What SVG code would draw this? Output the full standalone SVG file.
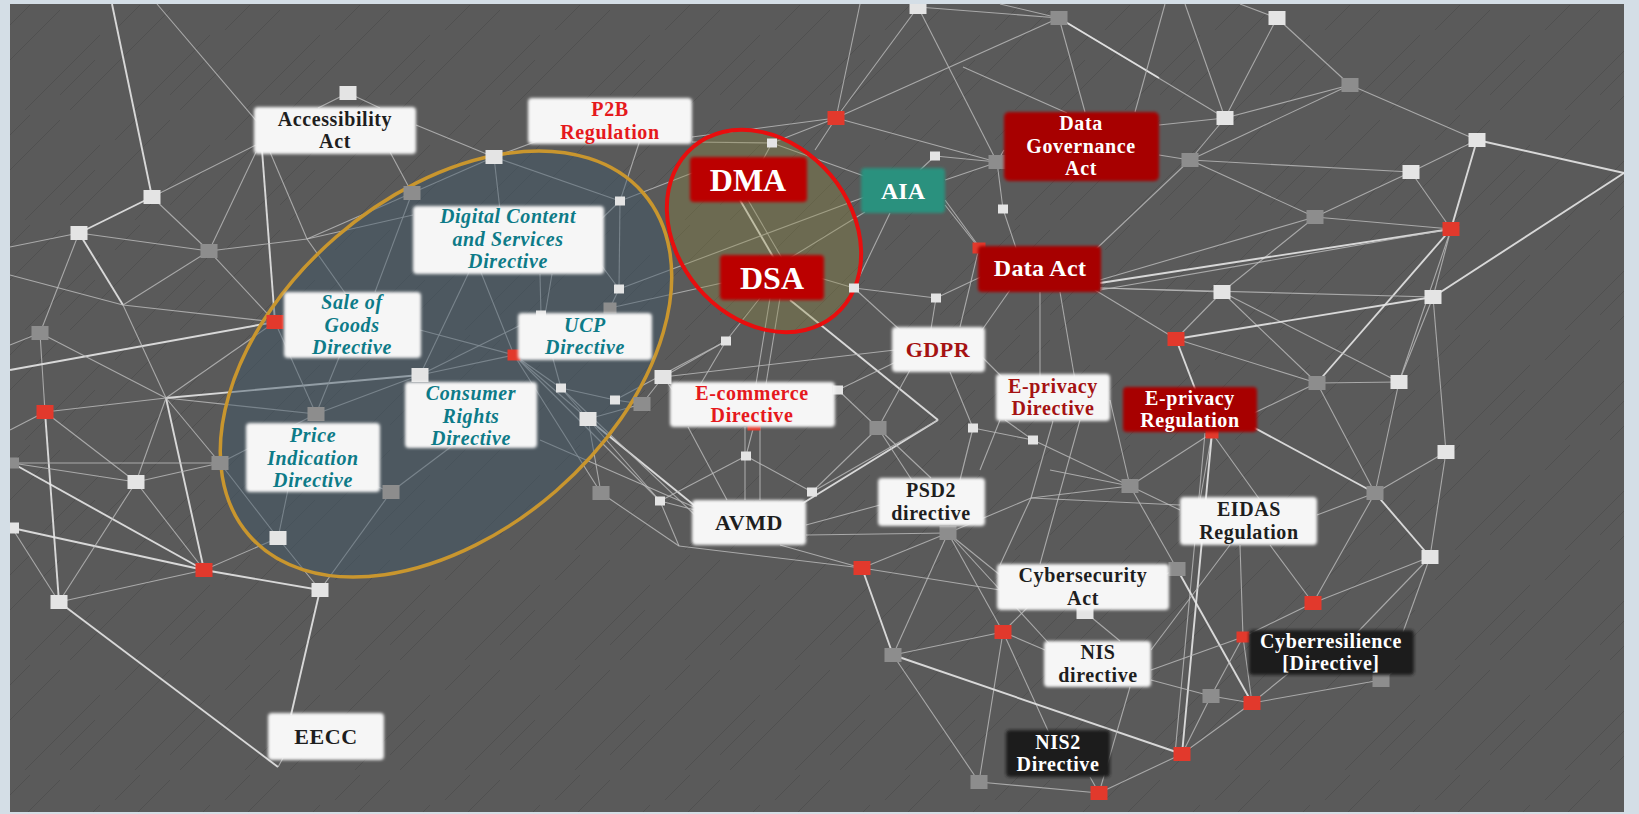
<svg xmlns="http://www.w3.org/2000/svg" width="1639" height="814" viewBox="0 0 1639 814">
<style>
.l{stroke:#bdbdbd;stroke-width:1.1;opacity:.8;fill:none}
.b{stroke:#e6e6e6;stroke-width:1.9;opacity:.9;fill:none}
.sw{fill:#e4e4e4}
.sg{fill:#8d8d8d}
.sr{fill:#e2392c}
.wb{fill:#f6f6f6;filter:url(#soft)}
.rb{fill:#a70000;filter:url(#soft)}
.rb2{fill:#bb0000;filter:url(#soft)}
.tb{fill:#2b917e;filter:url(#soft)}
.db{fill:#1f1f1f;filter:url(#soft)}
text{font-family:"Liberation Serif","DejaVu Serif",serif;font-weight:bold;text-anchor:middle;font-size:20px;letter-spacing:.6px}
.one{font-size:22px}
.k{fill:#1e1e1e}
.w{fill:#ffffff}
.r{fill:#e5191d}
.dr{fill:#a51212}
.t{fill:#0d7b88;font-style:italic}
</style>
<defs>
<filter id="soft" x="-10%" y="-25%" width="120%" height="150%"><feGaussianBlur stdDeviation="1.6"/></filter>
<pattern id="scr" width="110" height="110" patternUnits="userSpaceOnUse">
<path d="M0 70L60 10M25 110L100 35M60 95L95 60M5 30L30 5M70 110L110 70" stroke="#474747" stroke-width="1" opacity=".55" fill="none"/>
</pattern>
</defs>
<rect x="0" y="0" width="1639" height="814" fill="#d4dee6"/>
<rect x="10" y="4" width="1614" height="808" fill="#5a5a5a"/>
<rect x="10" y="4" width="1614" height="808" fill="url(#scr)"/>

<g id="connectors">
<line class="b" x1="112" y1="4" x2="152" y2="197"/>
<line class="l" x1="157" y1="4" x2="260" y2="125"/>
<line class="b" x1="152" y1="197" x2="79" y2="233"/>
<line class="l" x1="79" y1="233" x2="10" y2="247"/>
<line class="l" x1="152" y1="197" x2="256" y2="145"/>
<line class="l" x1="152" y1="197" x2="209" y2="251"/>
<line class="l" x1="79" y1="233" x2="209" y2="251"/>
<line class="b" x1="79" y1="233" x2="123" y2="305"/>
<line class="l" x1="10" y1="275" x2="123" y2="305"/>
<line class="l" x1="123" y1="305" x2="275" y2="322"/>
<line class="l" x1="123" y1="305" x2="209" y2="251"/>
<line class="l" x1="40" y1="333" x2="79" y2="233"/>
<line class="l" x1="40" y1="333" x2="45" y2="412"/>
<line class="l" x1="10" y1="345" x2="40" y2="333"/>
<line class="b" x1="10" y1="370" x2="275" y2="322"/>
<line class="b" x1="275" y1="322" x2="262" y2="150"/>
<line class="l" x1="209" y1="251" x2="256" y2="152"/>
<line class="l" x1="209" y1="251" x2="275" y2="322"/>
<line class="l" x1="209" y1="251" x2="307" y2="239"/>
<line class="l" x1="307" y1="239" x2="413" y2="215"/>
<line class="l" x1="270" y1="152" x2="307" y2="239"/>
<line class="l" x1="307" y1="239" x2="350" y2="300"/>
<line class="l" x1="412" y1="193" x2="390" y2="152"/>
<line class="l" x1="412" y1="193" x2="375" y2="292"/>
<line class="l" x1="307" y1="239" x2="412" y2="193"/>
<line class="l" x1="348" y1="93" x2="318" y2="108"/>
<line class="l" x1="348" y1="93" x2="380" y2="108"/>
<line class="l" x1="416" y1="125" x2="494" y2="157"/>
<line class="l" x1="494" y1="157" x2="500" y2="210"/>
<line class="l" x1="494" y1="157" x2="540" y2="140"/>
<line class="l" x1="494" y1="157" x2="620" y2="201"/>
<line class="l" x1="412" y1="193" x2="494" y2="157"/>
<line class="l" x1="123" y1="305" x2="166" y2="398"/>
<line class="l" x1="40" y1="333" x2="166" y2="398"/>
<line class="l" x1="45" y1="412" x2="166" y2="398"/>
<line class="b" x1="166" y1="398" x2="420" y2="375"/>
<line class="l" x1="166" y1="398" x2="316" y2="414"/>
<line class="l" x1="166" y1="398" x2="275" y2="322"/>
<line class="l" x1="316" y1="414" x2="340" y2="355"/>
<line class="l" x1="420" y1="375" x2="470" y2="270"/>
<line class="l" x1="514" y1="355" x2="480" y2="270"/>
<line class="l" x1="514" y1="355" x2="420" y2="330"/>
<line class="l" x1="275" y1="322" x2="316" y2="414"/>
<line class="l" x1="45" y1="412" x2="10" y2="430"/>
<line class="l" x1="45" y1="412" x2="136" y2="482"/>
<line class="b" x1="45" y1="412" x2="59" y2="602"/>
<line class="b" x1="166" y1="398" x2="204" y2="570"/>
<line class="l" x1="166" y1="398" x2="136" y2="482"/>
<line class="l" x1="12" y1="463" x2="136" y2="482"/>
<line class="b" x1="12" y1="463" x2="204" y2="570"/>
<line class="b" x1="12" y1="528" x2="204" y2="570"/>
<line class="l" x1="12" y1="528" x2="59" y2="602"/>
<line class="l" x1="59" y1="602" x2="136" y2="482"/>
<line class="l" x1="59" y1="602" x2="204" y2="570"/>
<line class="b" x1="59" y1="602" x2="278" y2="767"/>
<line class="l" x1="278" y1="767" x2="283" y2="758"/>
<line class="l" x1="136" y1="482" x2="204" y2="570"/>
<line class="l" x1="136" y1="482" x2="220" y2="463"/>
<line class="l" x1="220" y1="463" x2="278" y2="538"/>
<line class="l" x1="204" y1="570" x2="278" y2="538"/>
<line class="b" x1="204" y1="570" x2="320" y2="590"/>
<line class="l" x1="278" y1="538" x2="320" y2="590"/>
<line class="l" x1="278" y1="538" x2="290" y2="480"/>
<line class="l" x1="391" y1="492" x2="320" y2="590"/>
<line class="l" x1="391" y1="492" x2="460" y2="440"/>
<line class="l" x1="391" y1="492" x2="360" y2="480"/>
<line class="b" x1="320" y1="590" x2="291" y2="715"/>
<line class="l" x1="316" y1="414" x2="220" y2="463"/>
<line class="l" x1="166" y1="398" x2="220" y2="463"/>
<line class="l" x1="220" y1="463" x2="12" y2="463"/>
<line class="l" x1="420" y1="375" x2="514" y2="355"/>
<line class="l" x1="420" y1="375" x2="316" y2="414"/>
<line class="l" x1="514" y1="355" x2="561" y2="388"/>
<line class="l" x1="514" y1="355" x2="601" y2="493"/>
<line class="l" x1="514" y1="355" x2="660" y2="501"/>
<line class="l" x1="514" y1="355" x2="588" y2="419"/>
<line class="l" x1="541" y1="315" x2="540" y2="274"/>
<line class="l" x1="545" y1="315" x2="552" y2="274"/>
<line class="l" x1="541" y1="315" x2="561" y2="388"/>
<line class="l" x1="420" y1="375" x2="541" y2="315"/>
<line class="l" x1="692" y1="137" x2="836" y2="118"/>
<line class="l" x1="692" y1="142" x2="772" y2="143"/>
<line class="l" x1="772" y1="143" x2="836" y2="118"/>
<line class="l" x1="836" y1="118" x2="997" y2="162"/>
<line class="l" x1="836" y1="118" x2="918" y2="7"/>
<line class="l" x1="836" y1="118" x2="1059" y2="18"/>
<line class="l" x1="836" y1="118" x2="815" y2="150"/>
<line class="l" x1="836" y1="118" x2="860" y2="4"/>
<line class="l" x1="772" y1="143" x2="760" y2="165"/>
<line class="l" x1="772" y1="143" x2="903" y2="190"/>
<line class="l" x1="935" y1="156" x2="920" y2="170"/>
<line class="l" x1="935" y1="156" x2="997" y2="162"/>
<line class="l" x1="918" y1="7" x2="997" y2="162"/>
<line class="l" x1="918" y1="7" x2="1059" y2="18"/>
<line class="l" x1="963" y1="67" x2="1067" y2="113"/>
<line class="l" x1="1059" y1="18" x2="1085" y2="112"/>
<line class="l" x1="997" y1="162" x2="1004" y2="150"/>
<line class="l" x1="997" y1="162" x2="1003" y2="209"/>
<line class="l" x1="1003" y1="209" x2="1020" y2="260"/>
<line class="l" x1="945" y1="200" x2="985" y2="255"/>
<line class="l" x1="945" y1="180" x2="1004" y2="160"/>
<line class="l" x1="945" y1="205" x2="979" y2="248"/>
<line class="l" x1="960" y1="327" x2="979" y2="248"/>
<line class="b" x1="740" y1="200" x2="775" y2="260"/>
<line class="l" x1="748" y1="200" x2="783" y2="260"/>
<line class="l" x1="790" y1="258" x2="865" y2="212"/>
<line class="l" x1="619" y1="289" x2="870" y2="195"/>
<line class="l" x1="722" y1="283" x2="610" y2="308"/>
<line class="l" x1="620" y1="201" x2="619" y2="289"/>
<line class="l" x1="620" y1="201" x2="640" y2="140"/>
<line class="l" x1="620" y1="201" x2="590" y2="230"/>
<line class="l" x1="620" y1="201" x2="700" y2="170"/>
<line class="l" x1="619" y1="289" x2="610" y2="308"/>
<line class="l" x1="619" y1="289" x2="590" y2="250"/>
<line class="l" x1="770" y1="298" x2="755" y2="390"/>
<line class="l" x1="780" y1="298" x2="765" y2="390"/>
<line class="l" x1="760" y1="298" x2="726" y2="341"/>
<line class="b" x1="790" y1="300" x2="938" y2="420"/>
<line class="b" x1="938" y1="420" x2="800" y2="505"/>
<line class="l" x1="820" y1="278" x2="854" y2="288"/>
<line class="l" x1="854" y1="288" x2="936" y2="298"/>
<line class="l" x1="936" y1="298" x2="930" y2="335"/>
<line class="l" x1="936" y1="298" x2="985" y2="275"/>
<line class="l" x1="854" y1="288" x2="900" y2="330"/>
<line class="l" x1="890" y1="213" x2="854" y2="288"/>
<line class="l" x1="895" y1="350" x2="663" y2="377"/>
<line class="l" x1="726" y1="341" x2="700" y2="385"/>
<line class="l" x1="726" y1="341" x2="663" y2="377"/>
<line class="l" x1="726" y1="341" x2="615" y2="400"/>
<line class="l" x1="830" y1="395" x2="838" y2="390"/>
<line class="l" x1="838" y1="390" x2="878" y2="428"/>
<line class="l" x1="838" y1="390" x2="900" y2="360"/>
<line class="l" x1="878" y1="428" x2="910" y2="370"/>
<line class="l" x1="878" y1="428" x2="915" y2="485"/>
<line class="l" x1="973" y1="428" x2="950" y2="372"/>
<line class="l" x1="973" y1="428" x2="1033" y2="440"/>
<line class="l" x1="975" y1="340" x2="1010" y2="290"/>
<line class="l" x1="975" y1="350" x2="1010" y2="385"/>
<line class="l" x1="1040" y1="292" x2="1040" y2="380"/>
<line class="l" x1="1060" y1="292" x2="1075" y2="380"/>
<line class="l" x1="663" y1="377" x2="642" y2="404"/>
<line class="l" x1="663" y1="377" x2="680" y2="400"/>
<line class="l" x1="561" y1="388" x2="588" y2="419"/>
<line class="l" x1="561" y1="388" x2="615" y2="400"/>
<line class="l" x1="615" y1="400" x2="642" y2="404"/>
<line class="l" x1="588" y1="419" x2="642" y2="404"/>
<line class="l" x1="588" y1="419" x2="601" y2="493"/>
<line class="b" x1="588" y1="419" x2="700" y2="510"/>
<line class="l" x1="561" y1="388" x2="695" y2="515"/>
<line class="l" x1="540" y1="440" x2="694" y2="507"/>
<line class="l" x1="601" y1="493" x2="679" y2="546"/>
<line class="l" x1="679" y1="546" x2="862" y2="568"/>
<line class="l" x1="660" y1="501" x2="695" y2="510"/>
<line class="l" x1="660" y1="501" x2="679" y2="546"/>
<line class="l" x1="660" y1="501" x2="746" y2="456"/>
<line class="l" x1="660" y1="501" x2="588" y2="419"/>
<line class="l" x1="746" y1="456" x2="754" y2="425"/>
<line class="l" x1="746" y1="456" x2="812" y2="492"/>
<line class="l" x1="812" y1="492" x2="938" y2="420"/>
<line class="l" x1="812" y1="492" x2="878" y2="428"/>
<line class="l" x1="688" y1="427" x2="727" y2="500"/>
<line class="l" x1="760" y1="500" x2="760" y2="427"/>
<line class="l" x1="745" y1="500" x2="745" y2="427"/>
<line class="l" x1="806" y1="525" x2="880" y2="505"/>
<line class="l" x1="806" y1="535" x2="948" y2="533"/>
<line class="l" x1="780" y1="545" x2="862" y2="568"/>
<line class="l" x1="931" y1="478" x2="878" y2="428"/>
<line class="l" x1="960" y1="480" x2="973" y2="428"/>
<line class="l" x1="948" y1="533" x2="862" y2="568"/>
<line class="l" x1="948" y1="533" x2="893" y2="655"/>
<line class="l" x1="948" y1="533" x2="1003" y2="632"/>
<line class="l" x1="948" y1="533" x2="1000" y2="575"/>
<line class="l" x1="948" y1="533" x2="1031" y2="498"/>
<line class="l" x1="948" y1="533" x2="1055" y2="650"/>
<line class="l" x1="862" y1="568" x2="1000" y2="590"/>
<line class="b" x1="862" y1="568" x2="893" y2="655"/>
<line class="l" x1="1003" y1="632" x2="893" y2="655"/>
<line class="l" x1="1003" y1="632" x2="1045" y2="650"/>
<line class="l" x1="1003" y1="632" x2="1030" y2="605"/>
<line class="l" x1="1003" y1="632" x2="979" y2="782"/>
<line class="l" x1="1003" y1="632" x2="1050" y2="735"/>
<line class="l" x1="893" y1="655" x2="979" y2="782"/>
<line class="b" x1="893" y1="655" x2="1182" y2="754"/>
<line class="l" x1="979" y1="782" x2="1099" y2="793"/>
<line class="l" x1="1031" y1="498" x2="1180" y2="505"/>
<line class="l" x1="1031" y1="498" x2="1053" y2="421"/>
<line class="l" x1="1031" y1="498" x2="1130" y2="486"/>
<line class="l" x1="1031" y1="498" x2="1000" y2="565"/>
<line class="l" x1="1033" y1="440" x2="1005" y2="420"/>
<line class="l" x1="1033" y1="440" x2="1130" y2="486"/>
<line class="l" x1="1085" y1="612" x2="1177" y2="569"/>
<line class="l" x1="1085" y1="612" x2="1120" y2="641"/>
<line class="l" x1="1059" y1="18" x2="1225" y2="118"/>
<line class="b" x1="1059" y1="18" x2="1159" y2="78"/>
<line class="l" x1="1059" y1="18" x2="1000" y2="4"/>
<line class="l" x1="1165" y1="4" x2="1135" y2="112"/>
<line class="l" x1="1185" y1="4" x2="1225" y2="118"/>
<line class="l" x1="1277" y1="18" x2="1225" y2="118"/>
<line class="l" x1="1277" y1="18" x2="1350" y2="85"/>
<line class="l" x1="1277" y1="18" x2="1240" y2="4"/>
<line class="l" x1="1350" y1="85" x2="1225" y2="118"/>
<line class="l" x1="1350" y1="85" x2="1190" y2="160"/>
<line class="l" x1="1350" y1="85" x2="1477" y2="140"/>
<line class="l" x1="1225" y1="118" x2="1190" y2="160"/>
<line class="l" x1="1225" y1="118" x2="1159" y2="125"/>
<line class="l" x1="1190" y1="160" x2="1159" y2="155"/>
<line class="l" x1="1190" y1="160" x2="1411" y2="172"/>
<line class="l" x1="1190" y1="160" x2="1315" y2="217"/>
<line class="l" x1="1190" y1="160" x2="1095" y2="250"/>
<line class="l" x1="1477" y1="140" x2="1411" y2="172"/>
<line class="b" x1="1477" y1="140" x2="1451" y2="229"/>
<line class="b" x1="1477" y1="140" x2="1624" y2="173"/>
<line class="b" x1="1624" y1="173" x2="1433" y2="297"/>
<line class="l" x1="1411" y1="172" x2="1451" y2="229"/>
<line class="l" x1="1411" y1="172" x2="1315" y2="217"/>
<line class="l" x1="1315" y1="217" x2="1451" y2="229"/>
<line class="l" x1="1315" y1="217" x2="1222" y2="292"/>
<line class="l" x1="1315" y1="217" x2="1100" y2="280"/>
<line class="b" x1="1451" y1="229" x2="1100" y2="283"/>
<line class="l" x1="1451" y1="229" x2="1100" y2="290"/>
<line class="l" x1="1451" y1="229" x2="1433" y2="297"/>
<line class="b" x1="1451" y1="229" x2="1317" y2="383"/>
<line class="l" x1="1451" y1="229" x2="1399" y2="382"/>
<line class="l" x1="1100" y1="288" x2="1222" y2="292"/>
<line class="l" x1="1100" y1="288" x2="1433" y2="297"/>
<line class="l" x1="1095" y1="290" x2="1176" y2="339"/>
<line class="l" x1="1222" y1="292" x2="1176" y2="339"/>
<line class="l" x1="1222" y1="292" x2="1317" y2="383"/>
<line class="l" x1="1222" y1="292" x2="1399" y2="382"/>
<line class="b" x1="1176" y1="339" x2="1433" y2="297"/>
<line class="l" x1="1176" y1="339" x2="1317" y2="383"/>
<line class="b" x1="1176" y1="339" x2="1212" y2="433"/>
<line class="l" x1="1317" y1="383" x2="1399" y2="382"/>
<line class="l" x1="1399" y1="382" x2="1433" y2="297"/>
<line class="l" x1="1433" y1="297" x2="1446" y2="452"/>
<line class="l" x1="1446" y1="452" x2="1375" y2="493"/>
<line class="l" x1="1446" y1="452" x2="1430" y2="557"/>
<line class="b" x1="1375" y1="493" x2="1430" y2="557"/>
<line class="l" x1="1375" y1="493" x2="1317" y2="515"/>
<line class="l" x1="1375" y1="493" x2="1313" y2="603"/>
<line class="l" x1="1375" y1="493" x2="1317" y2="383"/>
<line class="l" x1="1375" y1="493" x2="1399" y2="382"/>
<line class="b" x1="1375" y1="493" x2="1240" y2="420"/>
<line class="l" x1="1430" y1="557" x2="1313" y2="603"/>
<line class="l" x1="1430" y1="557" x2="1350" y2="640"/>
<line class="l" x1="1430" y1="557" x2="1403" y2="632"/>
<line class="l" x1="1212" y1="433" x2="1130" y2="486"/>
<line class="l" x1="1212" y1="433" x2="1200" y2="500"/>
<line class="b" x1="1212" y1="433" x2="1182" y2="754"/>
<line class="l" x1="1205" y1="433" x2="1175" y2="754"/>
<line class="l" x1="1212" y1="433" x2="1260" y2="500"/>
<line class="l" x1="1212" y1="433" x2="1317" y2="383"/>
<line class="l" x1="1130" y1="486" x2="1180" y2="510"/>
<line class="l" x1="1130" y1="486" x2="1177" y2="569"/>
<line class="l" x1="1130" y1="486" x2="1050" y2="470"/>
<line class="b" x1="1177" y1="569" x2="1252" y2="703"/>
<line class="l" x1="1230" y1="545" x2="1151" y2="650"/>
<line class="l" x1="1240" y1="545" x2="1243" y2="637"/>
<line class="l" x1="1270" y1="545" x2="1313" y2="603"/>
<line class="l" x1="1313" y1="603" x2="1243" y2="637"/>
<line class="l" x1="1243" y1="637" x2="1151" y2="670"/>
<line class="l" x1="1243" y1="637" x2="1252" y2="703"/>
<line class="l" x1="1243" y1="637" x2="1211" y2="696"/>
<line class="l" x1="1252" y1="703" x2="1290" y2="672"/>
<line class="l" x1="1252" y1="703" x2="1381" y2="680"/>
<line class="l" x1="1252" y1="703" x2="1211" y2="696"/>
<line class="l" x1="1252" y1="703" x2="1182" y2="754"/>
<line class="l" x1="1211" y1="696" x2="1151" y2="680"/>
<line class="l" x1="1211" y1="696" x2="1182" y2="754"/>
<line class="l" x1="1182" y1="754" x2="1099" y2="793"/>
<line class="l" x1="1099" y1="793" x2="1090" y2="777"/>
<line class="l" x1="1099" y1="793" x2="1130" y2="687"/>
<line class="l" x1="1381" y1="680" x2="1410" y2="660"/>
<line class="l" x1="1110" y1="400" x2="1130" y2="486"/>
<line class="l" x1="1000" y1="420" x2="980" y2="470"/>
<line class="l" x1="1080" y1="420" x2="1040" y2="564"/>
</g>

<g id="groups">
<ellipse cx="446" cy="364" rx="261" ry="168" transform="rotate(-41 446 364)" fill="#3e5668" fill-opacity=".45" stroke="#c9962e" stroke-width="3.5"/>
<ellipse cx="764" cy="231" rx="110" ry="87" transform="rotate(50 764 231)" fill="#908a40" fill-opacity=".34" stroke="#e80e0e" stroke-width="4"/>
</g>

<g id="points">
<rect id="p1" class="sw" x="339.5" y="86" width="17" height="14"/>
<rect id="p2" class="sw" x="485.5" y="150" width="17" height="14"/>
<rect id="p3" class="sw" x="143.5" y="190" width="17" height="14"/>
<rect id="p4" class="sw" x="70.5" y="226" width="17" height="14"/>
<rect id="p5" class="sg" x="200.5" y="244" width="17" height="14"/>
<rect id="p6" class="sg" x="403.5" y="186" width="17" height="14"/>
<rect id="p7" class="sg" x="31.5" y="326" width="17" height="14"/>
<rect id="p8" class="sr" x="266.5" y="315" width="17" height="14"/>
<rect id="p9" class="sr" x="507.5" y="349.5" width="13" height="11"/>
<rect id="p10" class="sw" x="411.5" y="368" width="17" height="14"/>
<rect id="p11" class="sr" x="36.5" y="405" width="17" height="14"/>
<rect id="p12" class="sg" x="307.5" y="407" width="17" height="14"/>
<rect id="p13" class="sg" x="211.5" y="456" width="17" height="14"/>
<rect id="p14" class="sw" x="127.5" y="475" width="17" height="14"/>
<rect id="p15" class="sg" x="10" y="457.5" width="9" height="11"/>
<rect id="p16" class="sw" x="10" y="522.5" width="9" height="11"/>
<rect id="p17" class="sr" x="195.5" y="563" width="17" height="14"/>
<rect id="p18" class="sw" x="269.5" y="531" width="17" height="14"/>
<rect id="p19" class="sg" x="382.5" y="485" width="17" height="14"/>
<rect id="p20" class="sw" x="311.5" y="583" width="17" height="14"/>
<rect id="p21" class="sw" x="50.5" y="595" width="17" height="14"/>
<rect id="p22" class="sr" x="827.5" y="111" width="17" height="14"/>
<rect id="p23" class="sw" x="767" y="138.5" width="10" height="9"/>
<rect id="p24" class="sw" x="930" y="151.5" width="10" height="9"/>
<rect id="p25" class="sg" x="988.5" y="155" width="17" height="14"/>
<rect id="p26" class="sw" x="615" y="196.5" width="10" height="9"/>
<rect id="p27" class="sw" x="998" y="204.5" width="10" height="9"/>
<rect id="p28" class="sw" x="614" y="284.5" width="10" height="9"/>
<rect id="p29" class="sg" x="603.5" y="302.5" width="13" height="11"/>
<rect id="p30" class="sw" x="849" y="283.5" width="10" height="9"/>
<rect id="p31" class="sw" x="931" y="293.5" width="10" height="9"/>
<rect id="p32" class="sw" x="721" y="336.5" width="10" height="9"/>
<rect id="p33" class="sw" x="654.5" y="370" width="17" height="14"/>
<rect id="p34" class="sw" x="556" y="383.5" width="10" height="9"/>
<rect id="p35" class="sw" x="610" y="395.5" width="10" height="9"/>
<rect id="p36" class="sg" x="633.5" y="397" width="17" height="14"/>
<rect id="p37" class="sw" x="579.5" y="412" width="17" height="14"/>
<rect id="p38" class="sw" x="833" y="385.5" width="10" height="9"/>
<rect id="p39" class="sg" x="869.5" y="421" width="17" height="14"/>
<rect id="p40" class="sw" x="968" y="423.5" width="10" height="9"/>
<rect id="p41" class="sw" x="1028" y="435.5" width="10" height="9"/>
<rect id="p42" class="sr" x="747.5" y="419.5" width="13" height="11"/>
<rect id="p43" class="sw" x="741" y="451.5" width="10" height="9"/>
<rect id="p44" class="sr" x="972.5" y="242.5" width="13" height="11"/>
<rect id="p45" class="sg" x="592.5" y="486" width="17" height="14"/>
<rect id="p46" class="sw" x="655" y="496.5" width="10" height="9"/>
<rect id="p47" class="sw" x="807" y="487.5" width="10" height="9"/>
<rect id="p48" class="sg" x="939.5" y="526" width="17" height="14"/>
<rect id="p49" class="sr" x="853.5" y="561" width="17" height="14"/>
<rect id="p50" class="sr" x="994.5" y="625" width="17" height="14"/>
<rect id="p51" class="sg" x="884.5" y="648" width="17" height="14"/>
<rect id="p52" class="sg" x="970.5" y="775" width="17" height="14"/>
<rect id="p53" class="sr" x="1090.5" y="786" width="17" height="14"/>
<rect id="p54" class="sw" x="1076.5" y="605" width="17" height="14"/>
<rect id="p55" class="sw" x="536" y="310.5" width="10" height="9"/>
<rect id="p56" class="sw" x="909.5" y="4" width="17" height="10"/>
<rect id="p57" class="sg" x="1050.5" y="11" width="17" height="14"/>
<rect id="p58" class="sw" x="1268.5" y="11" width="17" height="14"/>
<rect id="p59" class="sg" x="1341.5" y="78" width="17" height="14"/>
<rect id="p60" class="sw" x="1216.5" y="111" width="17" height="14"/>
<rect id="p61" class="sg" x="1181.5" y="153" width="17" height="14"/>
<rect id="p62" class="sw" x="1468.5" y="133" width="17" height="14"/>
<rect id="p63" class="sw" x="1402.5" y="165" width="17" height="14"/>
<rect id="p64" class="sg" x="1306.5" y="210" width="17" height="14"/>
<rect id="p65" class="sr" x="1442.5" y="222" width="17" height="14"/>
<rect id="p66" class="sw" x="1213.5" y="285" width="17" height="14"/>
<rect id="p67" class="sw" x="1424.5" y="290" width="17" height="14"/>
<rect id="p68" class="sr" x="1167.5" y="332" width="17" height="14"/>
<rect id="p69" class="sg" x="1308.5" y="376" width="17" height="14"/>
<rect id="p70" class="sw" x="1390.5" y="375" width="17" height="14"/>
<rect id="p71" class="sw" x="1437.5" y="445" width="17" height="14"/>
<rect id="p72" class="sg" x="1121.5" y="479" width="17" height="14"/>
<rect id="p73" class="sg" x="1366.5" y="486" width="17" height="14"/>
<rect id="p74" class="sw" x="1421.5" y="550" width="17" height="14"/>
<rect id="p75" class="sg" x="1168.5" y="562" width="17" height="14"/>
<rect id="p76" class="sr" x="1304.5" y="596" width="17" height="14"/>
<rect id="p77" class="sr" x="1236.5" y="631.5" width="13" height="11"/>
<rect id="p78" class="sg" x="1372.5" y="673" width="17" height="14"/>
<rect id="p79" class="sg" x="1202.5" y="689" width="17" height="14"/>
<rect id="p80" class="sr" x="1243.5" y="696" width="17" height="14"/>
<rect id="p81" class="sr" x="1173.5" y="747" width="17" height="14"/>
<rect id="p82" class="sr" x="1205.5" y="427.5" width="13" height="11"/>
</g>

<g id="node-accessibility"><rect class="wb" x="254" y="107" width="162" height="47" rx="4"/><text class="k" x="335" y="125.5">Accessibility</text><text class="k" x="335" y="148">Act</text></g>
<g id="node-p2b"><rect class="wb" x="528" y="98" width="164" height="46" rx="4"/><text class="r" x="610" y="116">P2B</text><text class="r" x="610" y="138.5">Regulation</text></g>
<g id="node-dma"><rect class="rb2" x="690" y="157" width="117" height="45" rx="4"/><text class="w" x="748" y="191" style="font-size:32px;letter-spacing:0">DMA</text></g>
<g id="node-aia"><rect class="tb" x="861" y="168" width="84" height="45" rx="4"/><text class="w" x="903" y="199" style="font-size:24px;letter-spacing:0">AIA</text></g>
<g id="node-dga"><rect class="rb" x="1004" y="112" width="155" height="69" rx="5"/><text class="w" x="1081" y="130">Data</text><text class="w" x="1081" y="152.5">Governance</text><text class="w" x="1081" y="175">Act</text></g>
<g id="node-dcsd"><rect class="wb" x="413" y="206" width="191" height="68" rx="4"/><text class="t" x="508" y="223">Digital Content</text><text class="t" x="508" y="245.5">and Services</text><text class="t" x="508" y="268">Directive</text></g>
<g id="node-dsa"><rect class="rb2" x="720" y="255" width="104" height="45" rx="4"/><text class="w" x="772" y="289" style="font-size:32px;letter-spacing:0">DSA</text></g>
<g id="node-data-act"><rect class="rb" x="978" y="246" width="123" height="46" rx="4"/><text class="w" x="1040" y="276" style="font-size:24px;letter-spacing:.3px">Data Act</text></g>
<g id="node-sog"><rect class="wb" x="284" y="292" width="137" height="66" rx="4"/><text class="t" x="352" y="309">Sale of</text><text class="t" x="352" y="331.5">Goods</text><text class="t" x="352" y="354">Directive</text></g>
<g id="node-ucp"><rect class="wb" x="518" y="313" width="134" height="47" rx="4"/><text class="t" x="585" y="331.5">UCP</text><text class="t" x="585" y="354">Directive</text></g>
<g id="node-gdpr"><rect class="wb" x="892" y="327" width="93" height="45" rx="4"/><text class="dr one" x="938" y="357">GDPR</text></g>
<g id="node-crd"><rect class="wb" x="405" y="382" width="132" height="66" rx="4"/><text class="t" x="471" y="400">Consumer</text><text class="t" x="471" y="422.5">Rights</text><text class="t" x="471" y="445">Directive</text></g>
<g id="node-ecommerce"><rect class="wb" x="670" y="382" width="165" height="45" rx="4"/><text class="r" x="752" y="399.5">E-commerce</text><text class="r" x="752" y="422">Directive</text></g>
<g id="node-eprivacy-dir"><rect class="wb" x="996" y="374" width="114" height="47" rx="4"/><text class="dr" x="1053" y="392.5">E-privacy</text><text class="dr" x="1053" y="415">Directive</text></g>
<g id="node-eprivacy-reg"><rect class="rb" x="1123" y="387" width="134" height="45" rx="4"/><text class="w" x="1190" y="404.5">E-privacy</text><text class="w" x="1190" y="427">Regulation</text></g>
<g id="node-pid"><rect class="wb" x="246" y="423" width="134" height="69" rx="4"/><text class="t" x="313" y="442">Price</text><text class="t" x="313" y="464.5">Indication</text><text class="t" x="313" y="487">Directive</text></g>
<g id="node-avmd"><rect class="wb" x="692" y="500" width="114" height="45" rx="4"/><text class="k one" x="749" y="530">AVMD</text></g>
<g id="node-psd2"><rect class="wb" x="878" y="478" width="107" height="48" rx="4"/><text class="k" x="931" y="497">PSD2</text><text class="k" x="931" y="519.5">directive</text></g>
<g id="node-eidas"><rect class="wb" x="1180" y="497" width="137" height="48" rx="4"/><text class="k" x="1249" y="516">EIDAS</text><text class="k" x="1249" y="538.5">Regulation</text></g>
<g id="node-csa"><rect class="wb" x="997" y="564" width="172" height="46" rx="4"/><text class="k" x="1083" y="582">Cybersecurity</text><text class="k" x="1083" y="604.5">Act</text></g>
<g id="node-nis"><rect class="wb" x="1044" y="641" width="107" height="46" rx="4"/><text class="k" x="1098" y="659">NIS</text><text class="k" x="1098" y="681.5">directive</text></g>
<g id="node-cra"><rect class="db" x="1249" y="630" width="165" height="45" rx="4"/><text class="w" x="1331" y="647.5">Cyberresilience</text><text class="w" x="1331" y="670">[Directive]</text></g>
<g id="node-nis2"><rect class="db" x="1006" y="730" width="104" height="47" rx="4"/><text class="w" x="1058" y="748.5">NIS2</text><text class="w" x="1058" y="771">Directive</text></g>
<g id="node-eecc"><rect class="wb" x="268" y="713" width="116" height="47" rx="4"/><text class="k one" x="326" y="744">EECC</text></g>
</svg>
